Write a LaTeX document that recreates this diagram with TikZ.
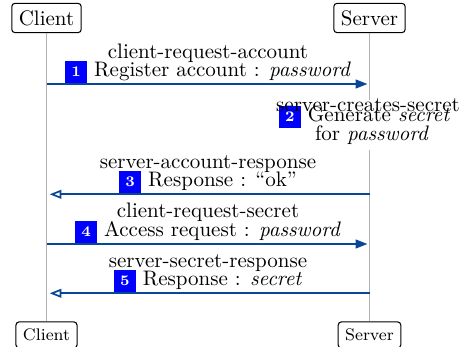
\documentclass[tikz,border=0pt]{standalone}
\usetikzlibrary{arrows.meta}
\definecolor{msgblue}{RGB}{10,70,150}
\definecolor{stepblue}{RGB}{0,0,255}
\newcommand{\stepno}[1]{\colorbox{stepblue}{\textcolor{white}{\scriptsize\bfseries #1}}}

\begin{document}
\begin{tikzpicture}[x=0.47619pt,y=-0.47619pt,
  actor/.style={draw, rounded corners=1.5pt, fill=white, line width=0.5pt},
  lifeline/.style={draw=black!30, line width=0.5pt},
  txt/.style={anchor=base, inner sep=0pt},
  req/.style={draw=msgblue, line width=0.8pt, -{Triangle[length=5.6pt,width=4.2pt]}, shorten >=1pt},
  resp/.style={draw=msgblue, line width=0.8pt, -{Triangle[open,length=5.6pt,width=4.2pt]}, shorten >=1.5pt}]
\useasboundingbox (0,0) rectangle (466,347);

% participants
\node[actor] (cTop) at (46.5,18) {Client};
\node[actor] (sTop) at (369.5,18) {Server};
\node[actor, font=\footnotesize] (cBot) at (46.5,335) {Client};
\node[actor, font=\footnotesize] (sBot) at (369.5,335) {Server};

% lifelines
\draw[lifeline] (cTop.south) -- (cBot.north);
\draw[lifeline] (sTop.south) -- (sBot.north);

% message end points on the lifelines
\coordinate (c1) at (46.5,84);    \coordinate (s1) at (369.5,84);
\coordinate (c3) at (46.5,194.3); \coordinate (s3) at (369.5,194.3);
\coordinate (c4) at (46.5,244);   \coordinate (s4) at (369.5,244);
\coordinate (c5) at (46.5,293.3); \coordinate (s5) at (369.5,293.3);

% 1: client-request-account
\draw[req] (c1) -- (s1);
\node[txt] (m1a) at (208,58.3) {client-request-account};
\node[txt] (m1b) at (208,77) {\stepno{1} Register account : \emph{password}};

% 2: server-creates-secret (self action on the server)
\fill[white] (275,100) rectangle (462,150);
\node[txt] (m2b) at (364.5,122) {\stepno{2} Generate \emph{secret}};
\node[txt] (m2a) at (368,111.7) {server-creates-secret};
\node[txt] (m2c) at (372,140.5) {for \emph{password}};

% 3: server-account-response
\draw[resp] (s3) -- (c3);
\node[txt] (m3a) at (208,168.3) {server-account-response};
\node[txt] (m3b) at (208,187) {\stepno{3} Response : “ok”};

% 4: client-request-secret
\draw[req] (c4) -- (s4);
\node[txt] (m4a) at (208,218) {client-request-secret};
\node[txt] (m4b) at (208,236.7) {\stepno{4} Access request : \emph{password}};

% 5: server-secret-response
\draw[resp] (s5) -- (c5);
\node[txt] (m5a) at (208,267.3) {server-secret-response};
\node[txt] (m5b) at (208,286) {\stepno{5} Response : \emph{secret}};
\end{tikzpicture}
\end{document}
